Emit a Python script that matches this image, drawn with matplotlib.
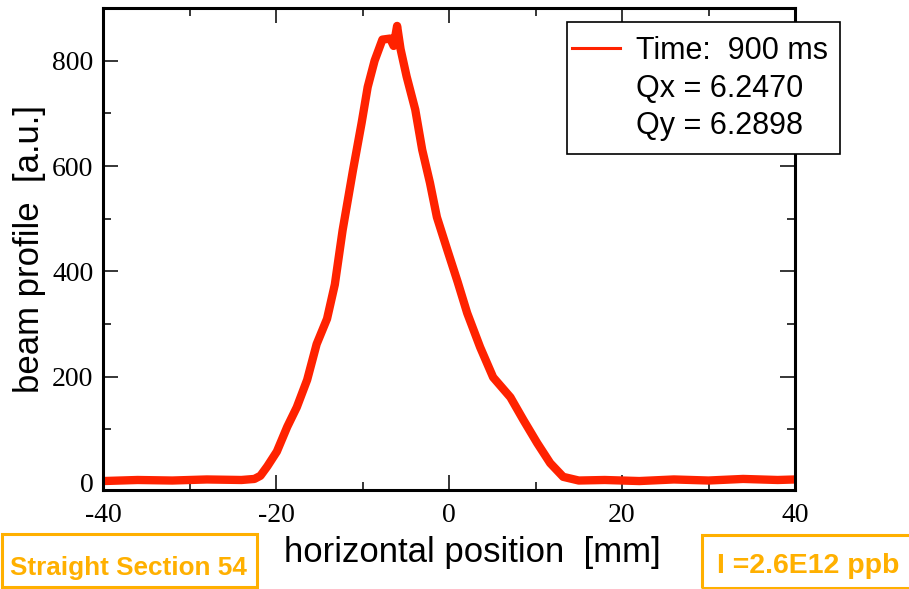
import numpy as np
import matplotlib.pyplot as plt
from matplotlib.lines import Line2D
from matplotlib.patches import Rectangle
from matplotlib.ticker import MultipleLocator

# ---------------------------------------------------------
# DATA
# ---------------------------------------------------------

position_mm = [-40, -36, -32, -28, -24, -22.5, -21.8, -21.0, -19.9, -18.7,
               -17.6, -16.4, -15.3, -14.1, -13.2, -12.3, -11.1, -10.1, -9.4,
               -8.6, -7.7, -6.8, -6.4, -6.0, -5.6, -4.9, -3.9, -3.1, -2.2,
               -1.4, -0.2, 1.0, 2.1, 3.6, 5.1, 7.1, 8.6, 10.2, 11.7, 13.2,
               15.0, 18, 22, 26, 30, 34, 38, 40]
profile_au = [2, 4, 3, 5, 4, 6, 12, 30, 58, 105,
              142, 194, 262, 310, 375, 478, 592, 682, 750,
              800, 840, 842, 828, 866, 822, 770, 707, 631, 568,
              503, 441, 380, 321, 256, 199, 161, 118, 74, 36, 10,
              3, 4, 2, 5, 3, 6, 4, 5]

legend_lines = ["Time:  900 ms", "Qx = 6.2470", "Qy = 6.2898"]
section_label = "Straight Section 54"
intensity_label = "I =2.6E12 ppb"

RED = "#FF2200"
ORANGE = "#FFB000"

# ---------------------------------------------------------
# PLOT
# ---------------------------------------------------------

plt.rcParams["axes.unicode_minus"] = False

W, H = 909, 589
fig = plt.figure(figsize=(W / 100, H / 100), dpi=100)
ax = fig.add_axes([103 / W, 99 / H, 692 / W, 482 / H])

ax.plot(position_mm, profile_au, color=RED, lw=6, solid_joinstyle="round")

ax.set_xlim(-40, 40)
ax.set_ylim(-15, 900)
ax.xaxis.set_major_locator(MultipleLocator(20))
ax.xaxis.set_minor_locator(MultipleLocator(10))
ax.yaxis.set_major_locator(MultipleLocator(200))
ax.yaxis.set_minor_locator(MultipleLocator(100))
ax.tick_params(which="both", direction="in", top=True, right=True, width=1.1,
               labelsize=20, labelfontfamily="Liberation Serif", colors="black")
ax.tick_params(which="major", length=10.8, pad=7)
ax.tick_params(axis="x", which="major", pad=9)
ax.tick_params(which="minor", length=5.8)
for sp in ax.spines.values():
    sp.set_linewidth(2.2)

ax.set_xlabel("horizontal position  [mm]", fontsize=25, family="Liberation Sans", labelpad=6)
ax.xaxis.label.set_x((472 - 103) / 692)
ax.set_ylabel("beam profile  [a.u.]", fontsize=25, family="Liberation Sans", labelpad=4)

# legend: white box drawn by hand, entries from fig.legend on top of it
fig.add_artist(Rectangle((567 / W, 1 - 154 / H), 273 / W, 132 / H, transform=fig.transFigure,
                         facecolor="white", edgecolor="black", lw=1.2, zorder=4))
handles = [Line2D([], [], color=RED, lw=2.2),
           Line2D([], [], color="none"),
           Line2D([], [], color="none")]
fig.legend(handles, legend_lines, loc="upper left",
           bbox_to_anchor=(567 / W, 1 - 31 / H), bbox_transform=fig.transFigure,
           prop={"family": "Liberation Sans", "size": 22},
           frameon=False, borderpad=0.15, labelspacing=0.26, handlelength=1.6,
           handletextpad=0.5, borderaxespad=0)

# orange info boxes under the axes
fig.add_artist(Rectangle((2 / W, 1 - 587 / H), 255 / W, 53 / H, transform=fig.transFigure,
                         fill=False, edgecolor=ORANGE, lw=2.2))
fig.text(10 / W, 1 - 575 / H, section_label, color=ORANGE, fontsize=18.8,
         fontweight="bold", family="Liberation Sans", ha="left", va="baseline")
fig.add_artist(Rectangle((702 / W, 1 - 588 / H), 230 / W, 53 / H, transform=fig.transFigure,
                         fill=False, edgecolor=ORANGE, lw=2.2, clip_on=False))
fig.text(717 / W, 1 - 573 / H, intensity_label, color=ORANGE, fontsize=20.5,
         fontweight="bold", family="Liberation Sans", ha="left", va="baseline")

fig.savefig("out.png", dpi=100)
